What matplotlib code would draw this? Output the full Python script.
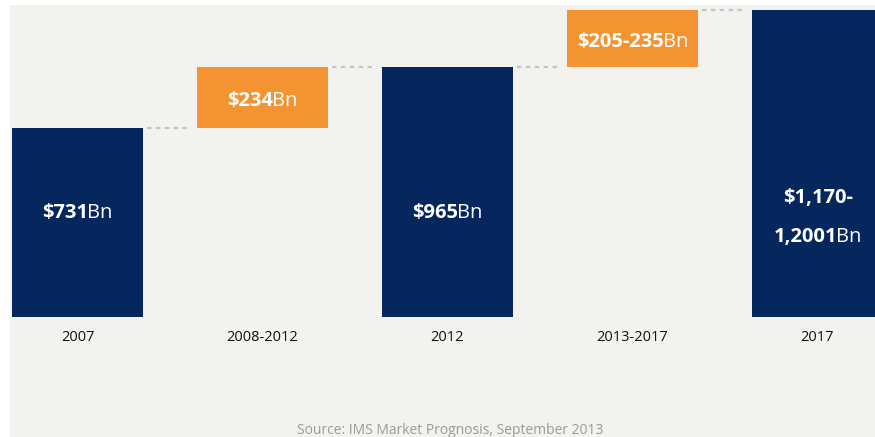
import matplotlib
matplotlib.use("Agg")
import matplotlib.pyplot as plt

# waterfall data (billions USD)
categories = ["2007", "2008-2012", "2012", "2013-2017", "2017"]
bar_bottoms = [0, 731, 0, 965, 0]
bar_tops = [731, 965, 965, 1185, 1185]
is_total = [True, False, True, False, True]
bold_labels = [["$731"], ["$234"], ["$965"], ["$205-235"], ["$1,170-", "1,2001"]]
unit = "Bn"
source = "Source: IMS Market Prognosis, September 2013"

navy = "#06265e"
orange = "#f39331"
panel = "#f3f2ef"

fig = plt.figure(figsize=(8.75, 4.37), dpi=100)
fig.patch.set_facecolor("white")
ax = fig.add_axes([10 / 875, 0, 865 / 875, 432 / 437])
ax.set_facecolor(panel)
for s in ax.spines.values():
    s.set_visible(False)
ax.set_xticks([])
ax.set_yticks([])
ax.set_xlim(-0.365, 4.311)
ax.set_ylim(-466, 1205)

width = 0.71
xs = list(range(len(categories)))
heights = [t - b for t, b in zip(bar_tops, bar_bottoms)]
colors = [navy if t else orange for t in is_total]
ax.bar(xs, heights, bottom=bar_bottoms, width=width, color=colors, zorder=2)

# dashed connectors between bars
for i in range(len(xs) - 1):
    ax.plot([xs[i] + width / 2 + 0.02, xs[i + 1] - width / 2 - 0.03],
            [bar_tops[i], bar_tops[i]], color="#c4c4c4", lw=1.6,
            ls=(0, (2, 2)), zorder=1)

fig.canvas.draw()
renderer = fig.canvas.get_renderer()
fs = 14.5
fam = "Open Sans"


def mixed_label(x, y, bold, regular):
    tb = ax.text(x, y, bold, fontsize=fs, fontweight="bold", family=fam,
                 color="white", ha="left", va="center", zorder=3)
    tr = ax.text(x, y, regular, fontsize=fs, family=fam,
                 color="white", ha="left", va="center", zorder=3)
    wb = tb.get_window_extent(renderer).width - 1
    wr = tr.get_window_extent(renderer).width if regular else 0
    px, py = ax.transData.transform((x, y))
    inv = ax.transData.inverted()
    left = inv.transform((px - (wb + wr) / 2, py))[0]
    mid = inv.transform((px - (wb + wr) / 2 + wb, py))[0]
    tb.set_x(left)
    tr.set_x(mid)


for i, x in enumerate(xs):
    lines = bold_labels[i]
    if is_total[i]:
        yc = 400
    else:
        yc = (bar_bottoms[i] + bar_tops[i]) / 2 - 15
    if len(lines) == 1:
        mixed_label(x, yc, lines[0], unit)
    else:
        gap = 152 / 2
        yc = 382
        mixed_label(x, yc + gap, lines[0], "")
        mixed_label(x, yc - gap, lines[1], unit)
    ax.text(x, -81, categories[i], fontsize=10.5, family=fam, color="#111111",
            ha="center", va="center")

ax.text(0.515, 0.014, source, transform=fig.transFigure, fontsize=10,
        family=fam, color="#9a9a9a", ha="center", va="center")

fig.savefig("out.png", dpi=100, facecolor=fig.get_facecolor())
